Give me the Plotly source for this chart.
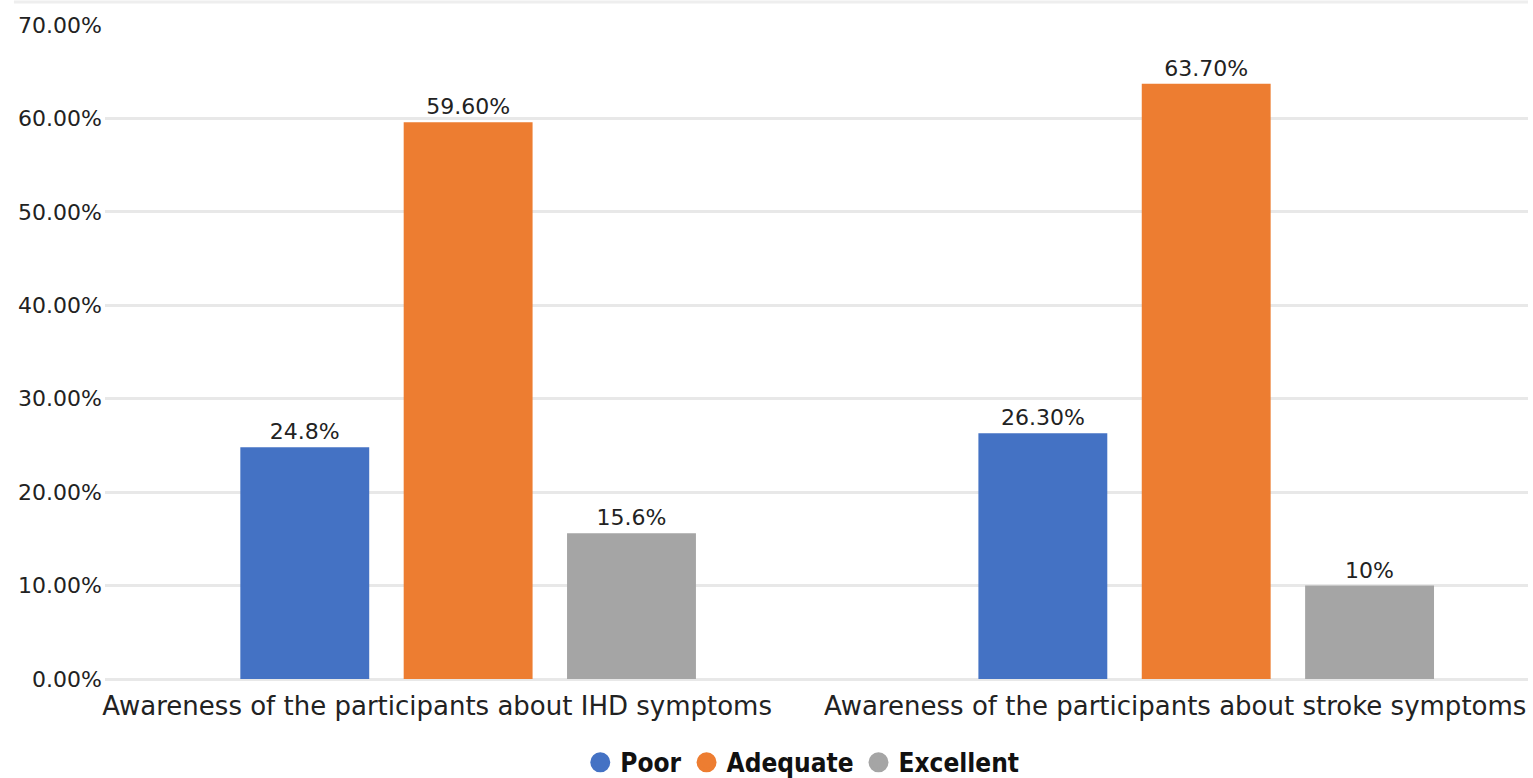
import plotly.graph_objects as go

categories = ["Awareness of the participants about IHD symptoms",
              "Awareness of the participants about stroke symptoms"]
series_names = ["Poor", "Adequate", "Excellent"]
poor = [24.8, 26.3]
adequate = [59.6, 63.7]
excellent = [15.6, 10.0]
poor_text = ["24.8%", "26.30%"]
adequate_text = ["59.60%", "63.70%"]
excellent_text = ["15.6%", "10%"]
colors = ["#4472C4", "#ED7D31", "#A5A5A5"]

values = [poor, adequate, excellent]
texts = [poor_text, adequate_text, excellent_text]

fig = go.Figure()
for name, vals, txt, col in zip(series_names, values, texts, colors):
    fig.add_trace(go.Bar(
        x=categories, y=vals, name=name, text=txt,
        textposition="outside", cliponaxis=False,
        textfont=dict(family="DejaVu Sans", size=22, color="#222222"),
        marker=dict(color=col, line=dict(width=0)),
        showlegend=False,
    ))
# legend entries with round markers
for name, col in zip(series_names, colors):
    fig.add_trace(go.Scatter(
        x=[None], y=[None], mode="markers", name=name,
        marker=dict(symbol="circle", size=16, color=col, line=dict(color=col, width=4)),
    ))

fig.update_layout(
    width=1533, height=778,
    margin=dict(l=105, r=5, t=25, b=99),
    paper_bgcolor="white", plot_bgcolor="white",
    barmode="group", bargap=0.336, bargroupgap=0.211,
    font=dict(family="DejaVu Sans", color="#222222"),
    legend=dict(
        orientation="h", x=0.49, xanchor="center",
        yref="container", y=0.02, yanchor="middle",
        font=dict(family="DejaVu Sans Condensed, Liberation Sans Narrow", size=26,
                  weight="bold", color="#111111"),
        itemwidth=30, tracegroupgap=0,
    ),
)
fig.update_xaxes(
    type="category", range=[-0.492, 1.436],
    showgrid=False, showline=False, ticks="",
    tickfont=dict(family="DejaVu Sans", size=26, color="#222222"),
    ticklabelshift=-31, ticklabelstandoff=9,
)
fig.update_yaxes(
    range=[0, 70], dtick=10, tickformat=".2f", ticksuffix="%",
    showgrid=True, gridcolor="#E8E8E8", gridwidth=3,
    zeroline=True, zerolinecolor="#E8E8E8", zerolinewidth=3,
    showline=False, ticks="",
    tickfont=dict(family="DejaVu Sans", size=22, color="#222222"),
    ticklabelstandoff=2,
)
fig.add_shape(type="line", xref="paper", yref="paper", x0=-0.064, x1=1.0,
              y0=1.035, y1=1.035, line=dict(color="#EEEEEE", width=3))

fig.write_html("out.html")
